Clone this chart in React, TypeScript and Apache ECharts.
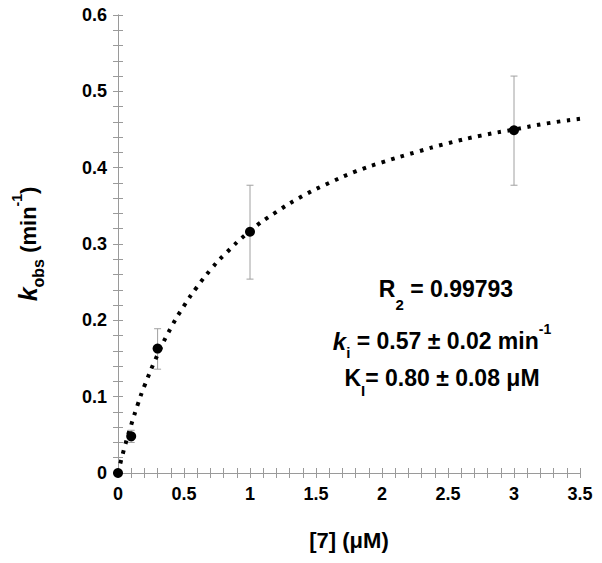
import React, { useEffect, useRef } from "react";
import * as echarts from "echarts";

// Measured points: [7] (µM) vs k_obs (min^-1)
const conc = [0, 0.1, 0.3, 1, 3];
const kobs = [0, 0.048, 0.163, 0.316, 0.449];
const errLow = [0, 0.040, 0.136, 0.254, 0.377];
const errHigh = [0, 0.056, 0.189, 0.377, 0.52];

// Fitted (dotted) curve
const fitX = [0, 0.05, 0.1, 0.15, 0.2, 0.3, 0.4, 0.5, 0.6, 0.7, 0.8, 1, 1.2, 1.4, 1.6, 1.8, 2, 2.25, 2.5, 2.75, 3, 3.25, 3.5];
const fitY = [0, 0.034, 0.063, 0.09, 0.114, 0.155, 0.19, 0.219, 0.244, 0.266, 0.285, 0.317, 0.342, 0.363, 0.38, 0.395, 0.407, 0.42, 0.432, 0.442, 0.45, 0.458, 0.464];

const FONT = "'Liberation Sans', Arial, sans-serif";
const AXIS_GRAY = "#9a9a9a";

export default function App() {
  const ref = useRef<HTMLDivElement>(null);

  useEffect(() => {
    if (!ref.current) return;
    const chart = echarts.init(ref.current, undefined, { renderer: "svg" });

    const tickCommon = {
      axisLine: { show: true, lineStyle: { color: AXIS_GRAY, width: 1 } },
      axisTick: { show: true, inside: false, length: -5, lineStyle: { color: AXIS_GRAY } },
      minorTick: { show: true, splitNumber: 5, length: -5, lineStyle: { color: AXIS_GRAY } },
      splitLine: { show: false },
      minorSplitLine: { show: false },
    };
    const labelStyle = {
      color: "#000",
      fontFamily: FONT,
      fontWeight: "bold" as const,
      fontSize: 18,
    };
    const B = { fontFamily: FONT, fontWeight: "bold", color: "#000" };

    const option: any = {
      animation: false,
      backgroundColor: "#fff",
      grid: { left: 118, right: 22, top: 15, bottom: 90, containLabel: false },
      xAxis: [
        {
          type: "value",
          min: 0,
          max: 3.5,
          interval: 0.5,
          position: "bottom",
          ...tickCommon,
          axisLabel: { ...labelStyle, margin: 12 },
          name: "[7] (μM)",
          nameLocation: "middle",
          nameGap: 56,
          nameTextStyle: { color: "#000", fontFamily: FONT, fontWeight: "bold", fontSize: 22 },
        },
        {
          type: "value",
          min: 0,
          max: 3.5,
          interval: 0.5,
          position: "top",
          ...tickCommon,
          axisLabel: { show: false },
        },
      ],
      yAxis: [
        {
          type: "value",
          min: 0,
          max: 0.6,
          interval: 0.1,
          position: "left",
          ...tickCommon,
          axisLabel: { ...labelStyle, margin: 11 },
        },
        {
          type: "value",
          min: 0,
          max: 0.6,
          interval: 0.1,
          position: "right",
          ...tickCommon,
          axisLabel: { show: false },
        },
      ],
      series: [
        {
          type: "custom",
          xAxisIndex: 0,
          yAxisIndex: 0,
          data: conc.map((x, i) => [x, errLow[i], errHigh[i]]),
          renderItem: (params: any, api: any) => {
            const x = api.value(0);
            const lo = api.coord([x, api.value(1)]);
            const hi = api.coord([x, api.value(2)]);
            const cap = 3.5;
            const style = { stroke: "#a0a0a0", lineWidth: 1 };
            return {
              type: "group",
              children: [
                { type: "line", shape: { x1: lo[0], y1: lo[1], x2: hi[0], y2: hi[1] }, style },
                { type: "line", shape: { x1: lo[0] - cap, y1: lo[1], x2: lo[0] + cap, y2: lo[1] }, style },
                { type: "line", shape: { x1: hi[0] - cap, y1: hi[1], x2: hi[0] + cap, y2: hi[1] }, style },
              ],
            };
          },
          z: 1,
        },
        {
          type: "line",
          data: fitX.map((x, i) => [x, fitY[i]]),
          smooth: true,
          showSymbol: false,
          lineStyle: { color: "#000", width: 4, type: [3.5, 6.5], cap: "butt" },
          z: 2,
        },
        {
          type: "scatter",
          data: conc.map((x, i) => [x, kobs[i]]),
          symbol: "circle",
          symbolSize: 10,
          itemStyle: { color: "#000", opacity: 1 },
          z: 3,
        },
      ],
      graphic: [
        {
          type: "text",
          x: 28,
          y: 244,
          rotation: Math.PI / 2,
          style: {
            text: "{k|k}{sub|obs}{n| (min}{sup|-1}{n|)}",
            align: "center",
            verticalAlign: "middle",
            rich: {
              k: { ...B, fontStyle: "italic", fontSize: 25, lineHeight: 36 },
              n: { ...B, fontSize: 22, lineHeight: 36 },
              sub: { ...B, fontSize: 16, lineHeight: 15, verticalAlign: "bottom" },
              sup: { ...B, fontSize: 14, lineHeight: 18, verticalAlign: "top" },
            },
          },
        },
        {
          type: "text",
          x: 446,
          y: 289,
          style: {
            text: "{n|R}{sub|2}{n| = 0.99793}",
            align: "center",
            verticalAlign: "middle",
            rich: {
              n: { ...B, fontSize: 23, lineHeight: 46 },
              sub: { ...B, fontSize: 15, lineHeight: 15, verticalAlign: "bottom" },
            },
          },
        },
        {
          type: "text",
          x: 442,
          y: 341,
          style: {
            text: "{k|k}{sub|i}{n| = 0.57 ± 0.02 min}{sup|-1}",
            align: "center",
            verticalAlign: "middle",
            rich: {
              k: { ...B, fontStyle: "italic", fontSize: 24, lineHeight: 38 },
              n: { ...B, fontSize: 23, lineHeight: 38 },
              sub: { ...B, fontSize: 15, lineHeight: 15, verticalAlign: "bottom" },
              sup: { ...B, fontSize: 14, lineHeight: 20, verticalAlign: "top" },
            },
          },
        },
        {
          type: "text",
          x: 442,
          y: 378,
          style: {
            text: "{n|K}{sub|I}{n|= 0.80 ± 0.08 μM}",
            align: "center",
            verticalAlign: "middle",
            rich: {
              n: { ...B, fontSize: 23, lineHeight: 40 },
              sub: { ...B, fontSize: 15, lineHeight: 15, verticalAlign: "bottom" },
            },
          },
        },
      ],
    };

    chart.setOption(option);
    return () => chart.dispose();
  }, []);

  return <div ref={ref} style={{ width: 602, height: 563, position: "absolute", left: 0, top: 0 }} />;
}
